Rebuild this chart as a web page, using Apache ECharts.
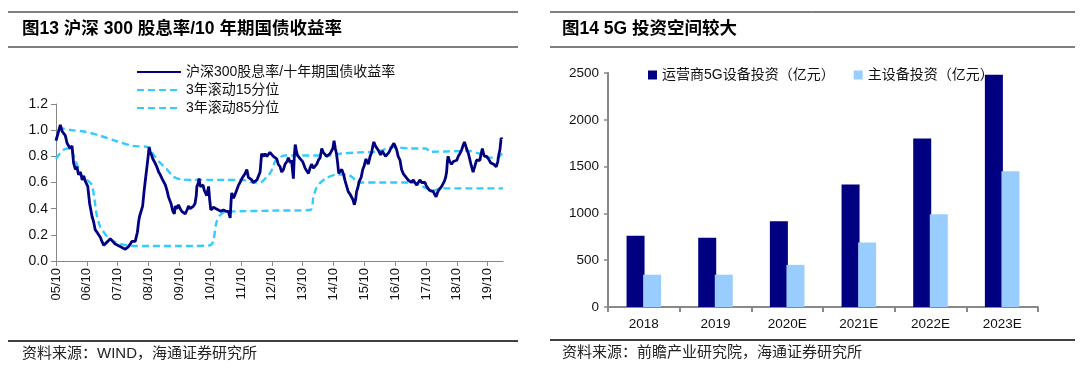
<!DOCTYPE html>
<html>
<head>
<meta charset="utf-8">
<script src="https://cdn.jsdelivr.net/npm/echarts@6/dist/echarts.min.js"></script>
<style>
  html, body { margin: 0; padding: 0; background: #fff; }
  #main { width: 1080px; height: 377px; }
</style>
</head>
<body>
<div id="main"></div>
<script>
// 图13: x = years since 2005/10
var ratioT = [0,0.07,0.14,0.2,0.3,0.36,0.41,0.46,0.52,0.57,0.63,0.68,0.73,0.79,0.85,0.9,0.95,1.03,1.09,1.17,1.22,1.27,1.33,1.38,1.44,1.49,1.55,1.6,1.68,1.76,1.84,1.92,2.0,2.08,2.17,2.25,2.3,2.35,2.41,2.46,2.52,2.57,2.61,2.64,2.68,2.71,2.76,2.81,2.86,2.91,2.95,2.99,3.02,3.06,3.1,3.14,3.19,3.23,3.27,3.33,3.38,3.44,3.49,3.55,3.6,3.65,3.69,3.73,3.79,3.84,3.87,3.92,3.97,4.03,4.08,4.14,4.19,4.25,4.3,4.35,4.4,4.46,4.51,4.55,4.57,4.62,4.64,4.68,4.73,4.77,4.81,4.85,4.89,4.95,4.98,5.02,5.06,5.11,5.19,5.27,5.35,5.43,5.51,5.59,5.65,5.68,5.7,5.76,5.81,5.86,5.92,5.97,6.03,6.08,6.14,6.19,6.24,6.29,6.35,6.4,6.46,6.52,6.57,6.62,6.67,6.73,6.78,6.84,6.89,6.94,7.0,7.05,7.1,7.16,7.21,7.27,7.32,7.38,7.43,7.49,7.54,7.6,7.64,7.7,7.73,7.76,7.8,7.83,7.89,7.94,8.0,8.08,8.13,8.19,8.24,8.29,8.35,8.4,8.46,8.51,8.57,8.62,8.67,8.73,8.78,8.83,8.89,8.94,8.98,9.02,9.06,9.1,9.14,9.17,9.22,9.27,9.33,9.38,9.43,9.48,9.54,9.59,9.63,9.68,9.72,9.75,9.79,9.84,9.9,9.95,10.0,10.05,10.09,10.13,10.19,10.24,10.27,10.31,10.36,10.42,10.47,10.53,10.58,10.64,10.69,10.74,10.8,10.86,10.91,10.96,11.0,11.05,11.1,11.16,11.21,11.26,11.32,11.37,11.42,11.48,11.53,11.59,11.64,11.7,11.75,11.81,11.86,11.91,11.97,12.02,12.07,12.12,12.18,12.24,12.28,12.33,12.37,12.41,12.46,12.51,12.55,12.6,12.64,12.67,12.7,12.72,12.77,12.83,12.89,12.94,13.0,13.05,13.1,13.16,13.2,13.25,13.29,13.33,13.38,13.42,13.47,13.53,13.58,13.64,13.7,13.75,13.79,13.83,13.87,13.9,13.94,13.97,14.03,14.1,14.15,14.2,14.25,14.28,14.33,14.37,14.4,14.44,14.47];
var ratioV = [0.92,0.98,1.04,0.99,0.96,0.9,0.9,0.86,0.88,0.75,0.7,0.72,0.66,0.68,0.62,0.65,0.61,0.57,0.44,0.34,0.3,0.24,0.22,0.21,0.18,0.15,0.12,0.115,0.15,0.17,0.15,0.13,0.12,0.11,0.1,0.09,0.095,0.11,0.13,0.15,0.14,0.15,0.19,0.22,0.3,0.34,0.35,0.42,0.54,0.64,0.72,0.8,0.87,0.83,0.81,0.78,0.76,0.74,0.72,0.68,0.66,0.63,0.62,0.58,0.54,0.49,0.5,0.44,0.38,0.36,0.42,0.4,0.43,0.4,0.38,0.37,0.36,0.39,0.42,0.4,0.41,0.42,0.44,0.5,0.57,0.6,0.63,0.57,0.56,0.58,0.54,0.55,0.5,0.57,0.48,0.39,0.38,0.41,0.4,0.39,0.38,0.39,0.38,0.38,0.33,0.46,0.52,0.48,0.49,0.54,0.58,0.6,0.63,0.64,0.67,0.7,0.64,0.63,0.62,0.6,0.61,0.62,0.63,0.68,0.82,0.8,0.82,0.8,0.81,0.83,0.83,0.8,0.81,0.78,0.74,0.72,0.68,0.7,0.74,0.76,0.79,0.75,0.77,0.63,0.8,0.89,0.84,0.81,0.79,0.8,0.76,0.71,0.69,0.67,0.71,0.74,0.71,0.72,0.74,0.77,0.79,0.86,0.83,0.82,0.8,0.79,0.82,0.81,0.86,0.92,0.86,0.82,0.74,0.67,0.68,0.7,0.66,0.61,0.57,0.53,0.51,0.5,0.47,0.43,0.47,0.53,0.56,0.61,0.64,0.7,0.73,0.78,0.76,0.74,0.8,0.83,0.87,0.91,0.88,0.88,0.84,0.81,0.84,0.82,0.8,0.79,0.83,0.86,0.88,0.9,0.88,0.85,0.8,0.77,0.7,0.67,0.65,0.64,0.62,0.63,0.6,0.62,0.6,0.58,0.6,0.62,0.6,0.59,0.6,0.57,0.56,0.54,0.55,0.53,0.51,0.49,0.52,0.54,0.55,0.57,0.58,0.61,0.64,0.68,0.77,0.8,0.76,0.74,0.76,0.75,0.77,0.8,0.82,0.85,0.88,0.91,0.88,0.85,0.82,0.78,0.73,0.68,0.72,0.77,0.76,0.77,0.82,0.86,0.82,0.8,0.79,0.8,0.78,0.75,0.76,0.74,0.73,0.72,0.76,0.82,0.85,0.94,0.93];

var p15T = [0,0.12,0.25,0.36,0.46,0.55,0.63,0.79,0.9,1.0,1.1,1.17,1.25,1.33,1.44,1.55,1.65,1.87,2.19,2.5,3.0,4.0,4.5,5.0,5.1,5.2,5.32,5.53,6.0,7.0,8.24,8.35,8.45,8.56,8.78,9.1,9.43,9.64,9.75,10.5,11.59,11.8,12.24,12.51,13.5,14.5];
var p15V = [0.78,0.82,0.85,0.86,0.86,0.82,0.77,0.67,0.64,0.62,0.6,0.58,0.47,0.34,0.26,0.22,0.19,0.15,0.125,0.115,0.115,0.115,0.115,0.12,0.15,0.29,0.35,0.377,0.38,0.385,0.39,0.49,0.56,0.595,0.635,0.66,0.66,0.635,0.6,0.6,0.6,0.58,0.54,0.555,0.555,0.555];

var p85T = [0,0.07,0.14,0.5,0.9,1.44,1.98,2.51,3.0,3.1,3.17,3.38,3.6,3.81,4.03,4.5,5.0,5.5,6.0,6.19,6.4,6.62,6.84,6.94,7.05,7.1,7.21,7.4,8.0,9.0,9.21,9.86,10.4,10.94,11.5,12.0,12.13,13.1,13.3,13.74,14.05,14.3,14.5];
var p85V = [0.92,0.98,1.015,1.0,0.99,0.957,0.915,0.88,0.87,0.84,0.81,0.75,0.7,0.645,0.625,0.62,0.62,0.62,0.62,0.615,0.6,0.6,0.645,0.67,0.72,0.76,0.78,0.806,0.806,0.806,0.82,0.83,0.835,0.87,0.86,0.86,0.835,0.84,0.845,0.82,0.79,0.79,0.83];

var yearTicks = [0,1,2,3,4,5,6,7,8,9,10,11,12,13,14];

// 图14
var years = ['2018', '2019', '2020E', '2021E', '2022E', '2023E'];
var carrier5G = [760, 740, 915, 1310, 1800, 2480];
var mainEquip = [345, 345, 450, 690, 990, 1450];

var FONT = '"Liberation Sans", Arial, "Noto Sans CJK SC", sans-serif';

function pairs(t, v){
	var out = [];
	for (var i = 0; i < t.length; i++) out.push([t[i], v[i]]);
	return out;
}

var chart = echarts.init(document.getElementById('main'), null, {renderer: 'canvas'});

var dashColor = '#33CCFF';
var navy = '#000080';

var option = {
	animation: false,
	backgroundColor: '#fff',
	textStyle: { fontFamily: FONT },
	graphic: [
		{ type: 'line', shape: {x1: 8, y1: 12, x2: 518, y2: 12}, style: {stroke: '#000', lineWidth: 1} },
		{ type: 'line', shape: {x1: 8, y1: 47, x2: 518, y2: 47}, style: {stroke: '#808080', lineWidth: 2} },
		{ type: 'line', shape: {x1: 8, y1: 341, x2: 518, y2: 341}, style: {stroke: '#000', lineWidth: 1.5} },
		{ type: 'line', shape: {x1: 550, y1: 12, x2: 1075, y2: 12}, style: {stroke: '#000', lineWidth: 1} },
		{ type: 'line', shape: {x1: 550, y1: 47, x2: 1075, y2: 47}, style: {stroke: '#808080', lineWidth: 2} },
		{ type: 'line', shape: {x1: 550, y1: 340, x2: 1075, y2: 340}, style: {stroke: '#000', lineWidth: 1.5} },
		{ type: 'text', left: 22, top: 20, style: {
			text: '图13 沪深 300 股息率/10 年期国债收益率',
			font: 'bold 17.5px "Liberation Sans", Arial, "Noto Sans CJK SC"', fill: '#000'} },
		{ type: 'text', left: 562, top: 20, style: {
			text: '图14 5G 投资空间较大',
			font: 'bold 17.5px "Liberation Sans", Arial, "Noto Sans CJK SC"', fill: '#000'} },
		{ type: 'text', left: 22, top: 346, style: {
			text: '资料来源：WIND，海通证券研究所',
			font: '15px "Liberation Sans", Arial, "Noto Sans CJK SC"', fill: '#222'} },
		{ type: 'text', left: 562, top: 345, style: {
			text: '资料来源：前瞻产业研究院，海通证券研究所',
			font: '15px "Liberation Sans", Arial, "Noto Sans CJK SC"', fill: '#222'} }
	],
	legend: [
		{
			id: 'legLeft',
			orient: 'vertical',
			left: 131, top: 60,
			itemWidth: 44, itemHeight: 12, itemGap: 4,
			itemStyle: { opacity: 0 },
			textStyle: { fontSize: 14, color: '#111', fontFamily: FONT },
			data: ['沪深300股息率/十年期国债收益率', '3年滚动15分位', '3年滚动85分位']
		},
		{
			id: 'legRight',
			orient: 'horizontal',
			left: 643, top: 63,
			itemWidth: 9, itemHeight: 9, itemGap: 19,
			textStyle: { fontSize: 14, color: '#111', fontFamily: FONT },
			data: [
				{ name: '运营商5G设备投资（亿元）', icon: 'rect' },
				{ name: '主设备投资（亿元）', icon: 'rect' }
			]
		}
	],
	grid: [
		{ left: 56, right: 577, top: 104, bottom: 116 },
		{ left: 608, right: 42, top: 73, bottom: 70 }
	],
	xAxis: [
		{
			type: 'value', gridIndex: 0,
			min: 0, max: 14.5, interval: 1,
			splitLine: { show: false },
			axisLine: { lineStyle: { color: '#888', width: 1 } },
			axisTick: { show: true, length: 5, customValues: yearTicks, lineStyle: { color: '#888' } },
			axisLabel: {
				rotate: 90, fontSize: 13, color: '#111', margin: 7,
				customValues: yearTicks,
				formatter: function(v){
					var y = 5 + Math.round(v);
					return (y < 10 ? '0' + y : '' + y) + '/10';
				}
			}
		},
		{
			type: 'category', gridIndex: 1, data: years,
			axisLine: { lineStyle: { color: '#888', width: 2 } },
			axisTick: { show: true, length: 5, lineStyle: { color: '#888', width: 2 } },
			axisLabel: { fontSize: 13.5, color: '#111', margin: 11 }
		}
	],
	yAxis: [
		{
			type: 'value', gridIndex: 0,
			min: 0, max: 1.2, interval: 0.2,
			splitLine: { show: false },
			axisLine: { show: true, lineStyle: { color: '#888', width: 1 } },
			axisTick: { show: true, length: 5, lineStyle: { color: '#888' } },
			axisLabel: { fontSize: 14, color: '#111', margin: 8,
				formatter: function(v){ return v.toFixed(1); } }
		},
		{
			type: 'value', gridIndex: 1,
			min: 0, max: 2500, interval: 500,
			splitLine: { show: false },
			axisLine: { show: true, lineStyle: { color: '#888', width: 2 } },
			axisTick: { show: true, length: 4, lineStyle: { color: '#888', width: 1.5 } },
			axisLabel: { fontSize: 13.5, color: '#111', margin: 9,
				formatter: function(v){ return String(v); } }
		}
	],
	series: [
		{
			name: '沪深300股息率/十年期国债收益率', type: 'line',
			xAxisIndex: 0, yAxisIndex: 0,
			data: pairs(ratioT, ratioV),
			symbol: 'none', z: 3,
			lineStyle: { color: navy, width: 2.8 },
			itemStyle: { color: navy }
		},
		{
			name: '3年滚动15分位', type: 'line',
			xAxisIndex: 0, yAxisIndex: 0,
			data: pairs(p15T, p15V),
			symbol: 'none', smooth: 0.3, z: 2,
			lineStyle: { color: dashColor, width: 2.4, type: [7, 4] },
			itemStyle: { color: dashColor }
		},
		{
			name: '3年滚动85分位', type: 'line',
			xAxisIndex: 0, yAxisIndex: 0,
			data: pairs(p85T, p85V),
			symbol: 'none', smooth: 0.3, z: 2,
			lineStyle: { color: dashColor, width: 2.4, type: [7, 4] },
			itemStyle: { color: dashColor }
		},
		{
			name: '运营商5G设备投资（亿元）', type: 'bar',
			xAxisIndex: 1, yAxisIndex: 1,
			data: carrier5G,
			barWidth: 18, barGap: '-8%',
			itemStyle: { color: navy }
		},
		{
			name: '主设备投资（亿元）', type: 'bar',
			xAxisIndex: 1, yAxisIndex: 1,
			data: mainEquip,
			barWidth: 18,
			itemStyle: { color: '#99CCFF' }
		}
	]
};

chart.setOption(option);
</script>
</body>
</html>
